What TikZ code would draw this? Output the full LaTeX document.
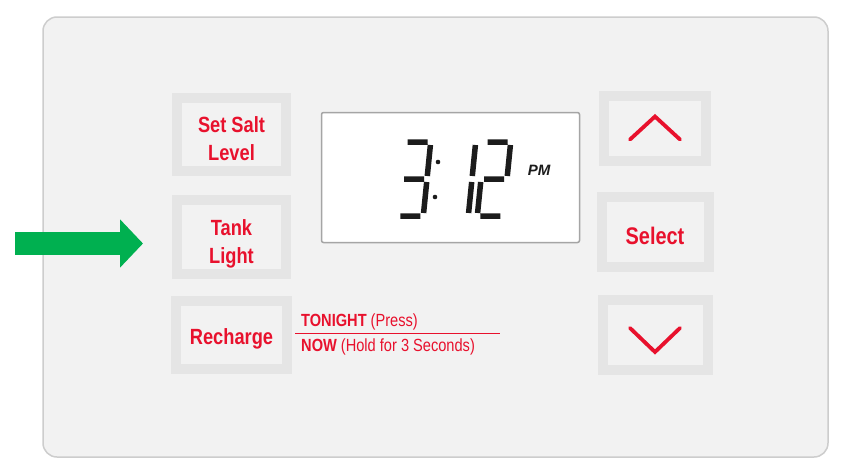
\documentclass[tikz,border=0pt]{standalone}
\usepackage{fontspec}
\newfontfamily\btnfont[FakeStretch=0.83]{Liberation Sans}
\newfontfamily\lcdfont{Liberation Sans}
\usetikzlibrary{arrows.meta, positioning}

\definecolor{panelgray}{RGB}{242,242,242}
\definecolor{framegray}{RGB}{229,229,229}
\definecolor{edgegray}{RGB}{205,205,205}
\definecolor{lcdedge}{RGB}{165,165,165}
\definecolor{panelred}{RGB}{232,17,45}
\definecolor{lcdblack}{RGB}{28,28,28}
\definecolor{arrowgreen}{RGB}{0,176,80}

\begin{document}
\begin{tikzpicture}[x=1pt, y=-1pt,
every node/.append style = {inner sep=0pt},
  knop/.style 2 args = {draw=framegray, fill=panelgray, line width=10pt,
                 minimum width=#1, minimum height=#2, align=center,
                 text=panelred, font=\btnfont\bfseries\fontsize{22}{28}\selectfont},
  chev/.style = {draw=panelred, line width=3.8pt, line cap=round},
   seg/.style = {draw=lcdblack, line width=5.5pt},
  hint/.style = {text=panelred, font=\btnfont\fontsize{17.6}{17.6}\selectfont},
   pil/.style = {draw=arrowgreen, line width=23pt,
                 -{Triangle[length=23pt, width=47pt]}}
                    ]
\useasboundingbox (0,0) rectangle (854,466);
\fill[white] (0,0) rectangle (854,466);
% panel
\draw[edgegray, line width=1.5pt, fill=panelgray, rounded corners=14pt]
     (43,17) rectangle (828,457);
% buttons, left column
\node (salt)     [knop={109pt}{73pt}, text height=52pt, text depth=0pt]
                 at (231.5,134.5) {Set Salt\\Level};
\node (tank)     [knop={109pt}{74pt}, text height=52pt, text depth=0pt,
                  below=19pt of salt]   {Tank\\Light};
\node (recharge) [knop={111pt}{68pt}, text height=18pt, text depth=0pt,
                  below=17pt of tank]   {Recharge};
% buttons, right column
\node (up)       [knop={102pt}{65pt}] at (655,128.5) {};
\node (select)   [knop={107pt}{70pt}, text height=25pt, text depth=0pt,
                  font=\btnfont\bfseries\fontsize{24}{28}\selectfont,
                  below=26pt of up]     {Select};
\node (down)     [knop={105pt}{70pt}, below=23pt of select] {};
\draw[chev] ([shift={(-25,11)}]up.center) -- ([shift={(0,-12)}]up.center)
            -- ([shift={(25,11)}]up.center);
\draw[chev] ([shift={(-25,-7)}]down.center) -- ([shift={(0,17)}]down.center)
            -- ([shift={(25,-7)}]down.center);
% display
\node (lcd) [draw=lcdedge, line width=1.5pt, fill=white, rounded corners=2pt,
             minimum width=258pt, minimum height=130pt] at (450.5,177.5) {};
\begin{scope}[shift={(401,179)}, xslant=0.1]
  \draw[seg] (3,-37) -- (23,-37)  (26,-34) -- (26,-3)  (3,0) -- (23,0)
             (26,3) -- (26,34)  (3,37) -- (23,37);
\end{scope}
\begin{scope}[shift={(446,179)}, xslant=0.1]
  \draw[seg] (26,-34) -- (26,-3)  (26,3) -- (26,34);
\end{scope}
\begin{scope}[shift={(481,179)}, xslant=0.1]
  \draw[seg] (3,-37) -- (23,-37)  (26,-34) -- (26,-3)  (3,0) -- (23,0)
             (0,3) -- (0,34)  (3,37) -- (23,37);
\end{scope}
\fill[lcdblack] (438,162) circle[radius=2.3pt] (435,197) circle[radius=2.3pt];
\node (pm) [text=lcdblack, font=\lcdfont\bfseries\itshape\fontsize{15}{15}\selectfont]
      at (539,170) {PM};
% recharge hints
\node (tonight) [hint, anchor=west] at (301,322) {\textbf{TONIGHT} (Press)};
\node (now)     [hint, anchor=west] at (301,347) {\textbf{NOW} (Hold for 3 Seconds)};
\coordinate (split) at (500,333);
\draw[panelred, line width=0.9pt] ([xshift=3pt]recharge.east |- split) -- (split);
% pointer
\coordinate (pointer) at (15,243.5);
\draw[pil] (pointer) -- ([xshift=-29pt]tank.west |- pointer);
\end{tikzpicture}
\end{document}
